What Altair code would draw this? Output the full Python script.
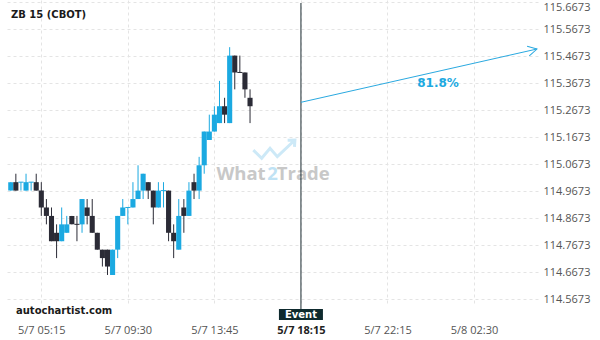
import altair as alt
import pandas as pd

# ---------------- data ----------------
title_text = "ZB 15 (CBOT)"
source_text = "autochartist.com"

# 15-minute candles; time in minutes after 5/7 00:00, first candle 03:45
first_candle_min = 225
candle_minutes = 15
base_price = 115.0
price_tick = 1 / 32  # prices below are in 32nds above 115

opens = [-1, 0, 0, -1, 0, 0, -1, -3, -4, -6, -7, -6, -4, -5, -5, -3, -4, -6, -8, -8,
         -11, -8, -4, -3, -3, -2, -1, 0, -1, -3, -1, -1, -6, -8, -3, -4, 0, -1, 2, 5,
         6, 7, 9, 7, 15, 13, 13, 10]
highs = [0, 1, 0, 1, 0, 1, 0, -2, -3, -5, -3, -4, -4, -4, -2, -2, -2, -6, -8, -8,
         -8, -4, -2, -3, 0, 2, 1, 0, -1, 0, 0, -1, -5, -2, -2, 0, 1, 3, 6, 8,
         9, 12, 10, 16, 15, 15, 13, 11]
lows = [-1, -1, -1, -1, -1, -1, -4, -5, -7, -9, -7, -6, -5, -7, -6, -5, -6, -8, -10, -11,
        -11, -9, -4, -5, -3, -2, -2, -2, -5, -3, -3, -7, -9, -8, -6, -4, -2, -2, 1, 5,
        6, 7, 7, 7, 11, 13, 10, 7]
closes = [0, -1, 0, 0, 0, -1, -3, -4, -7, -7, -5, -5, -5, -5, -2, -4, -6, -8, -9, -10,
          -8, -4, -3, -3, -2, -1, 1, -1, -3, -1, -1, -6, -7, -4, -4, -1, -1, 2, 6, 6,
          8, 9, 8, 15, 13, 13, 11, 9]

xtick_values = [315, 570, 825, 1080, 1335, 1590]
xtick_labels = ["5/7 05:15", "5/7 09:30", "5/7 13:45", "5/7 18:15", "5/7 22:15", "5/8 02:30"]
ytick_values = [114.5673, 114.6673, 114.7673, 114.8673, 114.9673, 115.0673,
                115.1673, 115.2673, 115.3673, 115.4673, 115.5673, 115.6673]

event_time = [1080]
event_label = "Event"
forecast_time = [1080, 1775.5]
forecast_price = [115.2958, 115.4932]
forecast_pct = "81.8%"
pct_pos_time = [1484]
pct_pos_price = [115.3673]

watermark_parts = ["What", "2", "Trade"]

# ---------------- styling ----------------
BLUE = "#1ba9e1"
DARK = "#2b2b36"
GRID = "#e4e4e4"
FONT = "Open Sans"
BOLD_FONT = "DejaVu Sans"

# ---------------- build table ----------------
rows = []
prev_up, prev_c = True, None
for i, (o, h, l, c) in enumerate(zip(opens, highs, lows, closes)):
    if c > o:
        up = True
    elif c < o:
        up = False
    else:
        up = prev_up if (prev_c is None or c == prev_c) else c > prev_c
    t = first_candle_min + i * candle_minutes
    rows.append({
        "t": t,
        "t0": t - candle_minutes / 2,
        "t1": t + candle_minutes / 2,
        "o": base_price + o * price_tick,
        "h": base_price + h * price_tick,
        "l": base_price + l * price_tick,
        "c": base_price + c * price_tick,
        "bt": base_price + max(o, c) * price_tick,
        "bb": base_price + min(o, c) * price_tick,
        "dir": "up" if up else "down",
        "doji": o == c,
    })
    prev_up, prev_c = up, c
candles = pd.DataFrame(rows)
dojis = candles[candles["doji"]]

xs = alt.Scale(domain=[213.9, 1778.5], nice=False, zero=False)
ys = alt.Scale(domain=[114.54508, 115.67471], nice=False, zero=False)

label_expr = " : ".join(f"datum.value == {v} ? '{lab}'" for v, lab in zip(xtick_values, xtick_labels)) + " : ''"

x_axis = alt.Axis(
    values=xtick_values, labelExpr=label_expr, grid=True, gridDash=[3, 3], gridColor=GRID,
    ticks=False, tickSize=0, domain=False, labelPadding=25, labelBaseline="middle",
    labelFont=FONT, labelFontSize=11, labelFlush=False,
    labelColor={"condition": {"test": f"datum.value == {event_time[0]}", "value": "#222222"}, "value": "#555555"},
    labelFontWeight={"condition": {"test": f"datum.value == {event_time[0]}", "value": "bold"}, "value": "normal"},
    title=None,
)
y_axis = alt.Axis(
    orient="right", values=ytick_values, format=".4f", grid=True, gridDash=[3, 3], gridColor=GRID,
    ticks=False, tickSize=0, domain=False, labelPadding=5, labelFont=FONT, labelFontSize=11,
    labelColor="#555555", labelFlush=False,
    labelOffset={"condition": {"test": "datum.value > 115.6", "value": 5}, "value": 0},
    title=None,
)

color = alt.Color("dir:N", scale=alt.Scale(domain=["up", "down"], range=[BLUE, DARK]), legend=None)
X = alt.X("t:Q", scale=xs, axis=x_axis)

one = pd.DataFrame({"k": [0]})

# watermark
wm_cols = ["#c8c8c8", "#bfe2f4", "#c8c8c8"]
wm_x = [234, 265.5, 296.3]
wm_layers = []
for part, col, xv in zip(watermark_parts, wm_cols, wm_x):
    wm_layers.append(
        alt.Chart(one).mark_text(font=FONT, fontSize=18.5, fontWeight="bold", color=col,
                                 align="center", baseline="alphabetic")
        .encode(x=alt.value(xv), y=alt.value(180), text=alt.value(part))
    )
logo = alt.Chart(one).mark_point(
    shape="M -0.94 0.05 L -0.56 0.42 L -0.18 -0.03 L 0.15 0.35 L 0.95 -0.41 M 0.62 -0.4 L 0.95 -0.41 L 0.93 -0.1",
    filled=False, size=1936, strokeWidth=3, color="#cde9f7", opacity=1,
).encode(x=alt.value(267), y=alt.value(149))

wicks = alt.Chart(candles).mark_rule(strokeWidth=1).encode(
    x=X, y=alt.Y("l:Q", scale=ys, axis=y_axis), y2="h:Q", color=color)
bodies = alt.Chart(candles).mark_rect().encode(
    x=alt.X("t0:Q", scale=xs, axis=x_axis), x2="t1:Q",
    y=alt.Y("bb:Q", scale=ys, axis=y_axis), y2="bt:Q", color=color)
doji_lines = alt.Chart(dojis).mark_rule(strokeWidth=1).encode(
    x=alt.X("t0:Q", scale=xs, axis=x_axis), x2="t1:Q",
    y=alt.Y("c:Q", scale=ys, axis=y_axis), color=color)

ev_df = pd.DataFrame({"t": event_time})
event_rule = alt.Chart(ev_df).mark_rule(color="#1b2b30", strokeWidth=1).encode(
    x=X, y=alt.value(3), y2=alt.value(309))
event_box = alt.Chart(ev_df).mark_point(
    shape="M -1 -0.25 L 1 -0.25 L 1 0.25 L -1 0.25 Z", filled=True, size=1936,
    color="#0e2a2e", opacity=1, strokeWidth=0,
).encode(x=X, y=alt.value(314.5))
event_text = alt.Chart(ev_df).mark_text(font=BOLD_FONT, fontSize=10, fontWeight="bold", color="white",
                                        baseline="middle").encode(
    x=X, y=alt.value(315), text=alt.value(event_label))

fc_df = pd.DataFrame({"t": forecast_time, "p": forecast_price})
arrow_line = alt.Chart(fc_df).mark_line(color="#2aa9e0", strokeWidth=1).encode(
    x=X, y=alt.Y("p:Q", scale=ys, axis=y_axis))
arrow_head = alt.Chart(fc_df.iloc[[-1]]).mark_point(
    shape="M -1 -0.55 L 0 0 L -1 0.55", filled=False, size=324, angle=347.3,
    color="#2aa9e0", strokeWidth=1, opacity=1,
).encode(x=X, y=alt.Y("p:Q", scale=ys, axis=y_axis))
pct_df = pd.DataFrame({"t": pct_pos_time, "p": pct_pos_price})
pct_text = alt.Chart(pct_df).mark_text(font=BOLD_FONT, fontSize=12, fontWeight="bold", color=BLUE,
                                       baseline="middle").encode(
    x=X, y=alt.Y("p:Q", scale=ys, axis=y_axis), text=alt.value(forecast_pct))

title_mark = alt.Chart(one).mark_text(font=BOLD_FONT, fontSize=10, fontWeight="bold", color="#1a1a1a",
                                      align="left", baseline="middle").encode(
    x=alt.value(4), y=alt.value(15), text=alt.value(title_text))
source_mark = alt.Chart(one).mark_text(font=BOLD_FONT, fontSize=10, fontWeight="bold", color="#1a1a1a",
                                       align="left", baseline="middle").encode(
    x=alt.value(9), y=alt.value(311), text=alt.value(source_text))

chart = alt.layer(
    *wm_layers, logo, wicks, bodies, doji_lines, event_rule, arrow_line, arrow_head, pct_text,
    event_box, event_text, title_mark, source_mark,
).properties(
    width=531, height=305, autosize="none",
    padding={"left": 7, "top": 0, "right": 62, "bottom": 35},
).configure_view(stroke=None)

chart.save("out.html", embed_options={"renderer": "svg", "actions": False})
